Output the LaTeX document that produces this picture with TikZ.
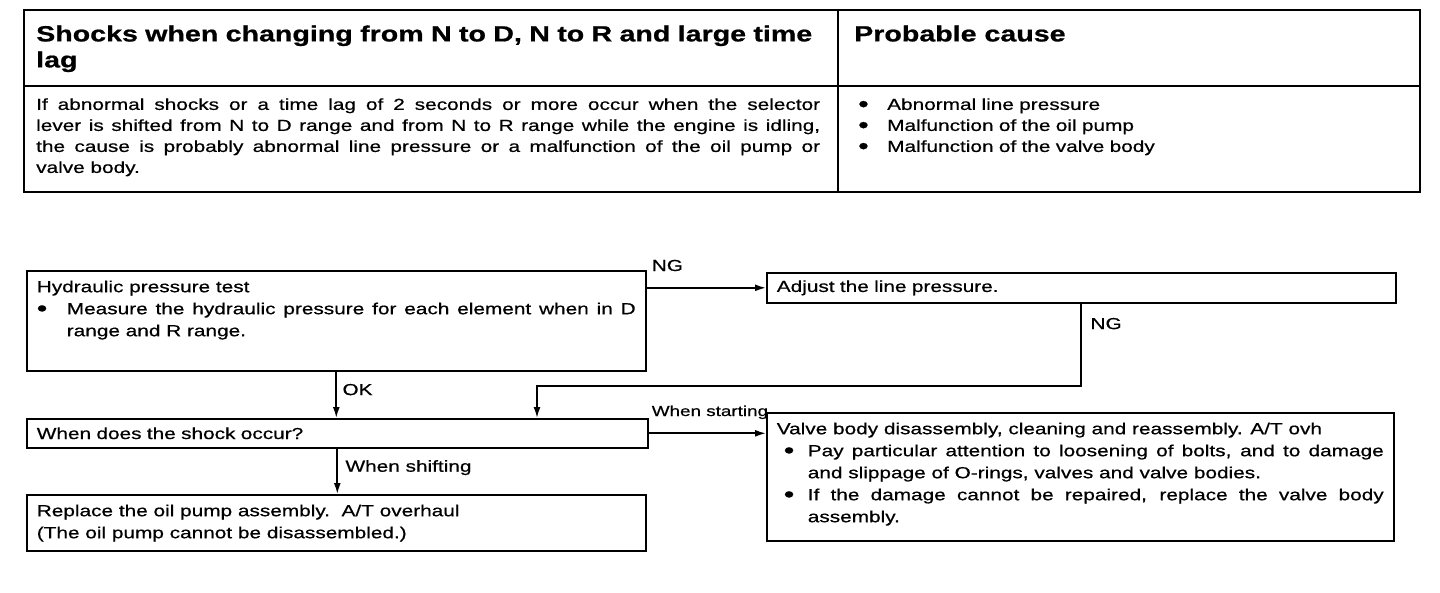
\documentclass[tikz,border=0pt]{standalone}
\usepackage{fontspec}
\setmainfont{Liberation Sans}[FakeStretch=1.3, UprightFeatures={FakeBold=0.6}, BoldFeatures={FakeBold=0.8}]
\usepackage{tikz}
\usetikzlibrary{arrows.meta, calc}
\definecolor{ink}{HTML}{000000}
\hyphenpenalty=10000
\exhyphenpenalty=10000

\newcommand{\flowfont}{\fontsize{16}{22}\selectfont}
\newcommand{\tblfont}{\fontsize{16}{21}\selectfont}
\newcommand{\headfont}{\fontsize{22}{26}\selectfont\bfseries}
\newcommand{\tagfont}{\fontsize{14.5}{17}\selectfont}
\newcommand{\boxpar}[3]{\parbox[t][#2][t]{#1}{\flowfont\strut #3}}
\newcommand{\bul}[1]{\makebox[#1][l]{\raisebox{-0.12em}{\scalebox{1.45}{•}}}}

\begin{document}
\begin{tikzpicture}[x=1pt, y=-1pt,
  flow/.style={draw=ink, line width=1.7pt, -{Latex[length=11pt,width=7pt]}},
  stepbox/.style={draw=ink, line width=1.6pt, anchor=north west, inner xsep=10pt, inner ysep=6pt},
  linebox/.style={draw=ink, line width=1.6pt, anchor=north west, inner xsep=10pt, inner ysep=0pt, align=left, font=\flowfont},
  lbl/.style={inner sep=0pt, font=\flowfont},
  tbltxt/.style={inner sep=0pt, anchor=north west}]
\useasboundingbox (0,0) rectangle (1440,592);

% symptom table
\draw[ink, line width=2.5pt] (24,10) rectangle (1420,192);
\draw[ink, line width=1.8pt] (24,86) -- (1420,86);
\draw[ink, line width=1.8pt] (838,10) -- (838,192);
\node[tbltxt, text width=790pt, align=left, font=\headfont] (symptom) at (36,23)
  {\strut Shocks when changing from N to D, N to R and large time\\lag};
\node[tbltxt, font=\headfont] (causehead) at (854,23) {\strut Probable cause};
\node[tbltxt, text width=784pt, align=justify, font=\tblfont] (symptomtxt) at (36,95)
  {\strut If abnormal shocks or a time lag of 2 seconds or more occur when the selector\linebreak
   lever is shifted from N to D range and from N to R range while the engine is idling,\linebreak
   the cause is probably abnormal line pressure or a malfunction of the oil pump or\linebreak
   valve body.};
\node[tbltxt, text width=540pt, align=left, font=\tblfont] (causetxt) at (858,95)
  {\strut\bul{29pt}Abnormal line pressure\\
   \bul{29pt}Malfunction of the oil pump\\
   \bul{29pt}Malfunction of the valve body};

% flow boxes
\node[stepbox] (pressuretest) at (26,270)
  {\boxpar{599pt}{88pt}{Hydraulic pressure test\par
   \hangindent=30pt\hangafter=1\noindent\bul{30pt}Measure the hydraulic pressure for each element when in D range and R range.}};
\node[linebox, text width=609pt, minimum height=30pt] (adjust) at (766,272) {Adjust the line pressure.};
\node[linebox, text width=601pt, minimum height=29pt] (shockwhen) at (26,418) {When does the shock occur?};
\node[stepbox] (pumpreplace) at (26,494)
  {\boxpar{599pt}{44pt}{Replace the oil pump assembly.\ \ A/T overhaul\par
   (The oil pump cannot be disassembled.)}};
\node[stepbox] (valvebody) at (766,412)
  {\boxpar{607pt}{116pt}{Valve body disassembly, cleaning and reassembly. A/T ovh\par
   \hangindent=31pt\hangafter=1\noindent\hspace*{7pt}\bul{24pt}Pay particular attention to loosening of bolts, and to damage and slippage of O-rings, valves and valve bodies.\par
   \hangindent=31pt\hangafter=1\noindent\hspace*{7pt}\bul{24pt}If the damage cannot be repaired, replace the valve body assembly.}};

% connectors
\draw[flow] (pressuretest.east |- adjust.west) -- (adjust.west);
\node[lbl, anchor=base west, xshift=5pt, yshift=-1pt] (ngtest) at (pressuretest.north east) {NG};
\coordinate (retjoin) at (537,386);
\draw[flow] (adjust.south) |- (retjoin) -- (retjoin |- shockwhen.north);
\node[lbl, anchor=west] (ngadjust) at ($(adjust.south)+(9,20)$) {NG};
\draw[flow] (pressuretest.south) -- (pressuretest.south |- shockwhen.north);
\node[lbl, anchor=west] (oklbl) at ($(pressuretest.south)+(6,18)$) {OK};
\draw[flow] (shockwhen.east) -- (shockwhen.east -| valvebody.west);
\node[lbl, anchor=base west, font=\tagfont] (startlbl) at ($(shockwhen.north east)+(3,-2)$) {When starting};
\draw[flow] (shockwhen.south) -- (shockwhen.south |- pumpreplace.north);
\node[lbl, anchor=west] (shiftlbl) at ($(shockwhen.south)+(8,19)$) {When shifting};
\end{tikzpicture}
\end{document}
